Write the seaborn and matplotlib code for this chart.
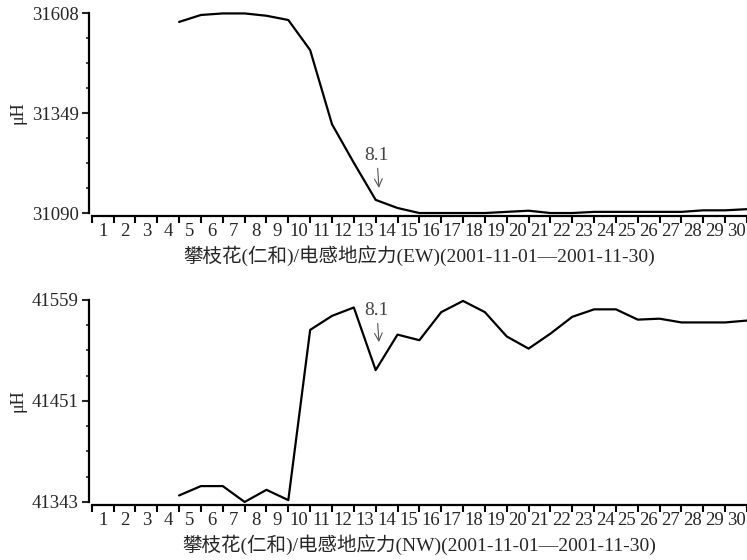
import matplotlib
matplotlib.use('Agg')
import matplotlib.pyplot as plt
from matplotlib.ticker import FixedLocator, AutoMinorLocator, NullFormatter
import seaborn as sns
import pandas as pd

# daily readings, day index (tick position) 4..30
days = [4, 5, 6, 7, 8, 9, 10, 11, 12, 13, 14, 15, 16, 17, 18, 19, 20,
        21, 22, 23, 24, 25, 26, 27, 28, 29, 30]
ew_values = [31585, 31603, 31607, 31607, 31601, 31590, 31512, 31320, 31220,
             31124, 31103, 31090, 31090, 31090, 31090, 31093, 31096, 31090,
             31090, 31093, 31093, 31093, 31093, 31093, 31097, 31097, 31100]
nw_values = [41350, 41360, 41360, 41343, 41356, 41345, 41527, 41542, 41551,
             41484, 41522, 41516, 41546, 41558, 41546, 41520, 41507, 41523,
             41541, 41549, 41549, 41538, 41539, 41535, 41535, 41535, 41537]
ew_yticks = [31090, 31349, 31608]
nw_yticks = [41343, 41451, 41559]
day_labels = [str(d) for d in range(1, 31)]
ew_title = '攀枝花(仁和)/电感地应力(EW)(2001-11-01—2001-11-30)'
nw_title = '攀枝花(仁和)/电感地应力(NW)(2001-11-01—2001-11-30)'
quake_label = '8.1'
ew_arrow = (13.15, 31155, 13.05, 31240)
nw_arrow = (13.15, 41514, 13.05, 41548)

sns.set_style('ticks')
plt.rcParams['font.family'] = ['Liberation Serif', 'Noto Sans CJK SC', 'DejaVu Sans']
plt.rcParams['font.size'] = 13

fig = plt.figure(figsize=(7.47, 5.6), dpi=100)
ax1 = fig.add_axes([0.1228, 0.6196, 0.8772, 0.3571])
ax2 = fig.add_axes([0.1228, 0.1036, 0.8772, 0.3607])


def draw_panel(ax, values, yticks, title, arrow):
    df = pd.DataFrame({'day': days, 'value': values})
    sns.lineplot(data=df, x='day', y='value', ax=ax, color='black',
                 linewidth=1.6, clip_on=False)
    ax.set_xlim(0, 30)
    ax.set_ylim(yticks[0], yticks[-1])

    # day boundaries as ticks, day numbers centred between them
    ax.xaxis.set_major_locator(FixedLocator(range(0, 31)))
    ax.xaxis.set_major_formatter(NullFormatter())
    ax.xaxis.set_minor_locator(FixedLocator([d - 0.5 for d in range(1, 31)]))
    ax.set_xticklabels(day_labels, minor=True)
    ax.tick_params(axis='x', which='major', direction='out', length=5,
                   width=1.5, color='black')
    ax.tick_params(axis='x', which='minor', length=0, pad=5, labelsize=13.5)

    ax.yaxis.set_major_locator(FixedLocator(yticks))
    ax.yaxis.set_minor_locator(AutoMinorLocator(4))
    ax.tick_params(axis='y', which='major', direction='out', length=5,
                   width=1.5, pad=2.5, labelsize=13.5)
    ax.tick_params(axis='y', which='minor', direction='out', length=2.5,
                   width=1.2)

    for side in ['left', 'bottom']:
        ax.spines[side].set_linewidth(1.6)
        ax.spines[side].set_color('black')
    sns.despine(ax=ax, offset=2)

    ax.set_xlabel(title, fontsize=14, labelpad=4)
    ax.set_ylabel('μH', fontsize=13)
    ax.yaxis.set_label_coords(-0.1, 0.5)

    ax.annotate(quake_label, xy=(arrow[0], arrow[1]), xytext=(arrow[2], arrow[3]),
                ha='center', va='center', fontsize=14, color='#444444',
                arrowprops=dict(arrowstyle='->', color='#555555', lw=0.8,
                                shrinkA=1, shrinkB=0))


draw_panel(ax1, ew_values, ew_yticks, ew_title, ew_arrow)
draw_panel(ax2, nw_values, nw_yticks, nw_title, nw_arrow)

fig.savefig('out.png', dpi=100, facecolor='white')
